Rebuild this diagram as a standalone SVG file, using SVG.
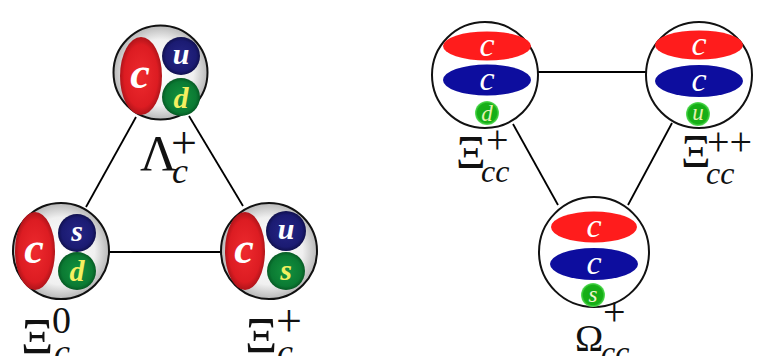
<svg xmlns="http://www.w3.org/2000/svg" width="757" height="356" viewBox="0 0 757 356">
  <style>
    .edge { stroke: #000; stroke-width: 1.8; fill: none; }
    .hadronL { fill: url(#gShell); stroke: #111; stroke-width: 2; }
    .hadronR { fill: #fff; stroke: #111; stroke-width: 2; }
    .q { font-family: "Liberation Serif", "DejaVu Serif", serif; font-style: italic; font-weight: bold; text-anchor: middle; }
    .qr { font-family: "Liberation Serif", "DejaVu Serif", serif; font-style: italic; text-anchor: middle; }
    .lbl { font-family: "Liberation Serif", "DejaVu Serif", serif; fill: #111; }
    .it { font-style: italic; }
  </style>
  <defs>
    <radialGradient id="gShell" cx="50%" cy="50%" r="50%">
      <stop offset="0%" stop-color="#ffffff"/>
      <stop offset="70%" stop-color="#f0f0f0"/>
      <stop offset="100%" stop-color="#b8b8b8"/>
    </radialGradient>
    <radialGradient id="gRed" cx="50%" cy="50%" r="50%">
      <stop offset="0%" stop-color="#ee2a2e"/>
      <stop offset="80%" stop-color="#dc1c22"/>
      <stop offset="100%" stop-color="#b0141a"/>
    </radialGradient>
    <radialGradient id="gBlue" cx="50%" cy="50%" r="50%">
      <stop offset="0%" stop-color="#262686"/>
      <stop offset="80%" stop-color="#1b1b72"/>
      <stop offset="100%" stop-color="#10104e"/>
    </radialGradient>
    <radialGradient id="gGreen" cx="50%" cy="50%" r="50%">
      <stop offset="0%" stop-color="#14923e"/>
      <stop offset="80%" stop-color="#0b7a33"/>
      <stop offset="100%" stop-color="#065a24"/>
    </radialGradient>
    <radialGradient id="gGreenR" cx="50%" cy="50%" r="50%">
      <stop offset="0%" stop-color="#1aa81a"/>
      <stop offset="80%" stop-color="#14b014"/>
      <stop offset="100%" stop-color="#60e060"/>
    </radialGradient>
    <filter id="soft" x="-10%" y="-10%" width="120%" height="120%">
      <feGaussianBlur stdDeviation="0.7"/>
    </filter>
  </defs>

  <!-- links between hadrons -->
  <g id="connectors">
    <line class="edge" x1="136" y1="117" x2="86" y2="207"/>
    <line class="edge" x1="189" y1="116" x2="243" y2="206"/>
    <line class="edge" x1="109" y1="252" x2="221" y2="252"/>
    <line class="edge" x1="538" y1="72" x2="646" y2="72"/>
    <line class="edge" x1="513" y1="124" x2="558" y2="205"/>
    <line class="edge" x1="672" y1="123" x2="628" y2="205"/>
  </g>

  <!-- Lambda_c^+ : c u d -->
  <g id="lambda_c">
    <circle class="hadronL" cx="160.5" cy="72.5" r="47"/>
    <ellipse cx="141" cy="76" rx="21" ry="39" fill="url(#gRed)"/>
    <circle cx="181" cy="56" r="19" fill="url(#gBlue)"/>
    <circle cx="181" cy="97" r="19" fill="url(#gGreen)"/>
    <text class="q" x="140" y="88" font-size="44" fill="#fff">c</text>
    <text class="q" x="181" y="64" font-size="30" fill="#fff">u</text>
    <text class="q" x="181" y="108" font-size="30" fill="#f4f060">d</text>
    <text class="lbl" x="140" y="170" font-size="51">Λ<tspan x="171" y="158" font-size="46">+</tspan><tspan class="it" x="172" y="183" font-size="36">c</tspan></text>
  </g>

  <!-- Xi_c^0 : c s d -->
  <g id="xi_c0">
    <circle class="hadronL" cx="61" cy="251" r="48"/>
    <ellipse cx="35" cy="251" rx="20" ry="39" fill="url(#gRed)"/>
    <circle cx="77" cy="233" r="19" fill="url(#gBlue)"/>
    <circle cx="77" cy="271" r="19" fill="url(#gGreen)"/>
    <text class="q" x="34" y="263" font-size="44" fill="#fff">c</text>
    <text class="q" x="77" y="241" font-size="30" fill="#fff">s</text>
    <text class="q" x="77" y="281" font-size="30" fill="#f4f060">d</text>
    <text class="lbl" x="21" y="353" font-size="50">Ξ<tspan x="52" y="333" font-size="38">0</tspan><tspan class="it" x="54" y="364" font-size="36">c</tspan></text>
  </g>

  <!-- Xi_c^+ : c u s -->
  <g id="xi_cplus">
    <circle class="hadronL" cx="269" cy="251" r="48"/>
    <ellipse cx="245" cy="251" rx="20" ry="39" fill="url(#gRed)"/>
    <circle cx="286" cy="231" r="20" fill="url(#gBlue)"/>
    <circle cx="286" cy="271" r="19" fill="url(#gGreen)"/>
    <text class="q" x="244" y="263" font-size="44" fill="#fff">c</text>
    <text class="q" x="286" y="239" font-size="30" fill="#fff">u</text>
    <text class="q" x="286" y="280" font-size="30" fill="#f4f060">s</text>
    <text class="lbl" x="245" y="352" font-size="50">Ξ<tspan x="276" y="336" font-size="46">+</tspan><tspan class="it" x="277" y="364" font-size="36">c</tspan></text>
  </g>

  <!-- Xi_cc^+ : c c d -->
  <g id="xi_ccplus">
    <circle class="hadronR" cx="485" cy="75" r="53"/>
    <g filter="url(#soft)">
      <ellipse cx="487" cy="46" rx="44" ry="14.5" fill="#ff1c1c"/>
      <ellipse cx="487" cy="80" rx="44" ry="15.5" fill="#0a0a9e"/>
      <circle cx="487" cy="113" r="12" fill="url(#gGreenR)"/>
    </g>
    <text class="qr" x="487" y="56" font-size="34" fill="#fff">c</text>
    <text class="qr" x="487" y="90" font-size="34" fill="#fff">c</text>
    <text class="qr" x="487" y="121" font-size="23" fill="#e6f2b0">d</text>
    <text class="lbl" x="456" y="168" font-size="46">Ξ<tspan x="486" y="153" font-size="40">+</tspan><tspan class="it" x="481" y="182" font-size="32">cc</tspan></text>
  </g>

  <!-- Xi_cc^++ : c c u -->
  <g id="xi_ccplusplus">
    <circle class="hadronR" cx="699" cy="75" r="53"/>
    <g filter="url(#soft)">
      <ellipse cx="699" cy="45" rx="44" ry="14.5" fill="#ff1c1c"/>
      <ellipse cx="699" cy="81" rx="44" ry="16" fill="#0a0a9e"/>
      <circle cx="698" cy="114" r="12" fill="url(#gGreenR)"/>
    </g>
    <text class="qr" x="699" y="55" font-size="34" fill="#fff">c</text>
    <text class="qr" x="699" y="91" font-size="34" fill="#fff">c</text>
    <text class="qr" x="698" y="120" font-size="23" fill="#e6f2b0">u</text>
    <text class="lbl" x="681" y="167" font-size="46">Ξ<tspan x="707" y="155" font-size="40">++</tspan><tspan class="it" x="706" y="184" font-size="32">cc</tspan></text>
  </g>

  <!-- Omega_cc^+ : c c s -->
  <g id="omega_ccplus">
    <circle class="hadronR" cx="594" cy="252" r="55"/>
    <g filter="url(#soft)">
      <ellipse cx="594" cy="227" rx="43" ry="15.5" fill="#ff1c1c"/>
      <ellipse cx="594" cy="264" rx="44" ry="16" fill="#0a0a9e"/>
      <circle cx="593" cy="295" r="12" fill="url(#gGreenR)"/>
    </g>
    <text class="qr" x="594" y="237" font-size="34" fill="#fff">c</text>
    <text class="qr" x="594" y="274" font-size="34" fill="#fff">c</text>
    <text class="qr" x="593" y="302" font-size="23" fill="#f0f6d0">s</text>
    <text class="lbl" x="575" y="351" font-size="38">Ω<tspan x="603" y="325" font-size="40">+</tspan><tspan class="it" x="601" y="363" font-size="32">cc</tspan></text>
  </g>
</svg>
